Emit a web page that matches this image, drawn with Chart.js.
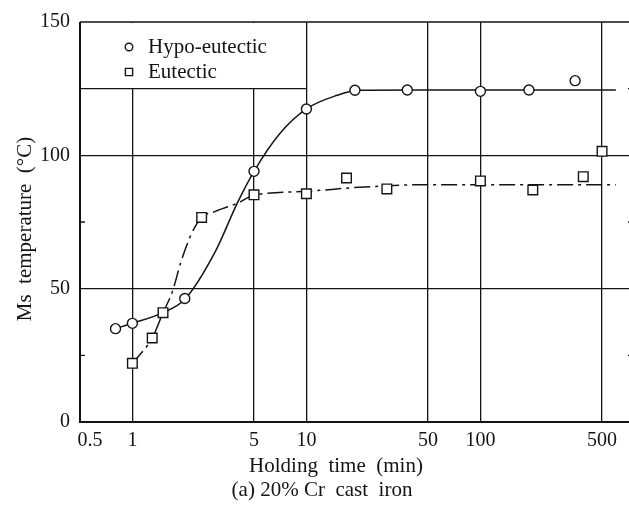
<!DOCTYPE html>
<html>
<head>
<meta charset="utf-8">
<script src="https://cdn.jsdelivr.net/npm/chart.js@4/dist/chart.umd.min.js"></script>
<style>
  html, body { margin: 0; padding: 0; background: #fff; overflow: hidden; }
  #wrap { width: 660px; height: 510px; }
</style>
</head>
<body>
<div id="wrap"><canvas id="c" width="660" height="510"></canvas></div>
<script>
// Measured points: holding time (min) vs Ms temperature (°C)
const hypoTime = [0.8, 1, 2, 5, 10, 19, 38, 100, 190, 350];
const hypoMs   = [35, 37, 46.3, 94, 117.4, 124.4, 124.5, 124, 124.5, 128];
const eutTime  = [1, 1.3, 1.5, 2.5, 5, 10, 17, 29, 100, 200, 390, 500];
const eutMs    = [22, 31.5, 41, 76.7, 85.2, 85.6, 91.5, 87.4, 90.4, 87, 92, 101.5];

// Hand-drawn trend curves through the measurements
const hypoCurveTime = [0.8, 1, 1.5, 2, 3, 4, 5, 7, 10, 15, 20, 40, 100, 600];
const hypoCurveMs   = [35, 37, 41, 46, 64, 82, 94, 108, 117.4, 122.5, 124.4, 124.5, 124.5, 124.5];
const eutCurveTime  = [1, 1.3, 1.5, 1.7, 1.9, 2.2, 2.5, 3, 4, 5, 10, 20, 50, 100, 600];
const eutCurveMs    = [22, 31.5, 41, 49, 60, 71, 76.7, 79, 82, 85, 86.5, 88, 89, 89, 89];

// Axis ticks
const xTicks = [0.5, 1, 5, 10, 50, 100, 500];
const yLabelTicks = [0, 50, 100, 150];
const yMinorTicks = [25, 75, 125];

const seriesNames = ['Hypo-eutectic', 'Eutectic'];
const xTitle = 'Holding  time  (min)';
const yTitle = 'Ms  temperature  (°C)';
const caption = '(a) 20% Cr  cast  iron';

const INK = '#141414';
const FONT = "'Liberation Serif', 'Times New Roman', serif";

const pairs = (xs, ys) => xs.map((x, i) => ({ x: x, y: ys[i] }));

Chart.defaults.font.family = FONT;
Chart.defaults.font.size = 20;
Chart.defaults.color = INK;

// Frame, inset legend box, minor ticks and free-standing titles
const decor = {
  id: 'decor',
  beforeDatasetsDraw(chart) {
    const { ctx, chartArea: a, scales } = chart;
    const xs = scales.x, ys = scales.y;
    const r = xs.getPixelForValue(10);
    const b = ys.getPixelForValue(125);
    ctx.save();
    // legend panel covers the grid in the upper-left corner
    ctx.fillStyle = '#fff';
    ctx.fillRect(a.left + 1, a.top + 1, r - a.left - 2, b - a.top - 1);
    ctx.strokeStyle = INK;
    ctx.lineWidth = 1.4;
    ctx.beginPath();
    ctx.moveTo(a.left, b);
    ctx.lineTo(r, b);
    ctx.stroke();

    // legend entries
    const mx = a.left + 49, tx = a.left + 68;
    const y1 = a.top + 25, y2 = a.top + 50;
    ctx.lineWidth = 1.4;
    ctx.fillStyle = '#fff';
    ctx.beginPath();
    ctx.arc(mx, y1, 3.8, 0, Math.PI * 2);
    ctx.fill(); ctx.stroke();
    ctx.beginPath();
    ctx.rect(mx - 3.6, y2 - 3.6, 7.2, 7.2);
    ctx.fill(); ctx.stroke();
    ctx.fillStyle = INK;
    ctx.font = '21px ' + FONT;
    ctx.textAlign = 'left';
    ctx.textBaseline = 'middle';
    ctx.fillText(seriesNames[0], tx, y1);
    ctx.fillText(seriesNames[1], tx, y2);

    // inward minor ticks on the left and right axes
    ctx.lineWidth = 1.3;
    ctx.beginPath();
    yMinorTicks.forEach(v => {
      const py = ys.getPixelForValue(v);
      if (v < 125) { ctx.moveTo(a.left, py); ctx.lineTo(a.left + 5, py); }
      ctx.moveTo(a.right, py); ctx.lineTo(a.right - 5, py);
    });
    ctx.stroke();
    ctx.restore();
  },
  afterDraw(chart) {
    const { ctx, chartArea: a } = chart;
    ctx.save();
    ctx.strokeStyle = INK;
    // plot frame
    ctx.lineWidth = 1.5;
    ctx.beginPath();
    ctx.moveTo(a.left, a.top); ctx.lineTo(a.right, a.top); ctx.lineTo(a.right, a.bottom);
    ctx.stroke();
    ctx.lineWidth = 2;
    ctx.beginPath();
    ctx.moveTo(a.left, a.top); ctx.lineTo(a.left, a.bottom); ctx.lineTo(a.right, a.bottom);
    ctx.stroke();

    // titles
    ctx.fillStyle = INK;
    ctx.font = '21px ' + FONT;
    ctx.textAlign = 'center';
    ctx.textBaseline = 'middle';
    ctx.fillText(xTitle, 336, 466);
    ctx.fillText(caption, 322, 490);
    ctx.translate(25, 229);
    ctx.rotate(-Math.PI / 2);
    ctx.fillText(yTitle, 0, 0);
    ctx.restore();
  }
};

const gridColor = v => (v === 50 || v === 100) ? INK : 'rgba(0,0,0,0)';

new Chart(document.getElementById('c'), {
  type: 'line',
  data: {
    datasets: [
      {
        label: seriesNames[0],
        data: pairs(hypoTime, hypoMs),
        showLine: false,
        pointStyle: 'circle',
        pointRadius: 5,
        pointBorderWidth: 1.4,
        pointBackgroundColor: '#fff',
        pointBorderColor: INK
      },
      {
        label: seriesNames[1],
        data: pairs(eutTime, eutMs),
        showLine: false,
        pointStyle: 'rect',
        pointRadius: 6.8,
        pointBorderWidth: 1.4,
        pointBackgroundColor: '#fff',
        pointBorderColor: INK
      },
      {
        label: 'Hypo-eutectic trend',
        data: pairs(hypoCurveTime, hypoCurveMs),
        borderColor: INK,
        borderWidth: 1.5,
        pointRadius: 0,
        fill: false,
        cubicInterpolationMode: 'monotone'
      },
      {
        label: 'Eutectic trend',
        data: pairs(eutCurveTime, eutCurveMs),
        borderColor: INK,
        borderWidth: 1.5,
        borderDash: [16, 5, 3, 5],
        segment: {
          borderDash: ctx => ctx.p0DataIndex === 1 ? [] : [16, 5, 3, 5]
        },
        pointRadius: 0,
        fill: false,
        cubicInterpolationMode: 'monotone'
      }
    ]
  },
  options: {
    responsive: false,
    animation: false,
    events: [],
    layout: { padding: { top: 20, right: 27, left: 0, bottom: 0 } },
    plugins: { legend: { display: false }, tooltip: { enabled: false } },
    scales: {
      x: {
        type: 'logarithmic',
        min: 0.5,
        max: 753,
        afterBuildTicks: s => { s.ticks = xTicks.map(v => ({ value: v })); },
        afterFit: s => { s.height = 88; },
        border: { display: false },
        grid: {
          drawTicks: false,
          lineWidth: 1.3,
          color: c => (c.tick && c.tick.value > 0.5) ? INK : 'rgba(0,0,0,0)'
        },
        ticks: {
          autoSkip: false,
          maxRotation: 0,
          padding: 7,
          callback: v => v === 0.5 ? '    0.5' : String(v)
        }
      },
      y: {
        min: 0,
        max: 150,
        afterBuildTicks: s => {
          s.ticks = yLabelTicks.concat(yMinorTicks).sort((p, q) => p - q).map(v => ({ value: v }));
        },
        afterFit: s => { s.width = 80; },
        border: { display: false },
        grid: {
          drawTicks: false,
          lineWidth: 1.3,
          color: c => gridColor(c.tick ? c.tick.value : -1)
        },
        ticks: {
          padding: 10,
          callback: v => yLabelTicks.includes(v) ? String(v) : ''
        }
      }
    }
  },
  plugins: [decor]
});
</script>
</body>
</html>
